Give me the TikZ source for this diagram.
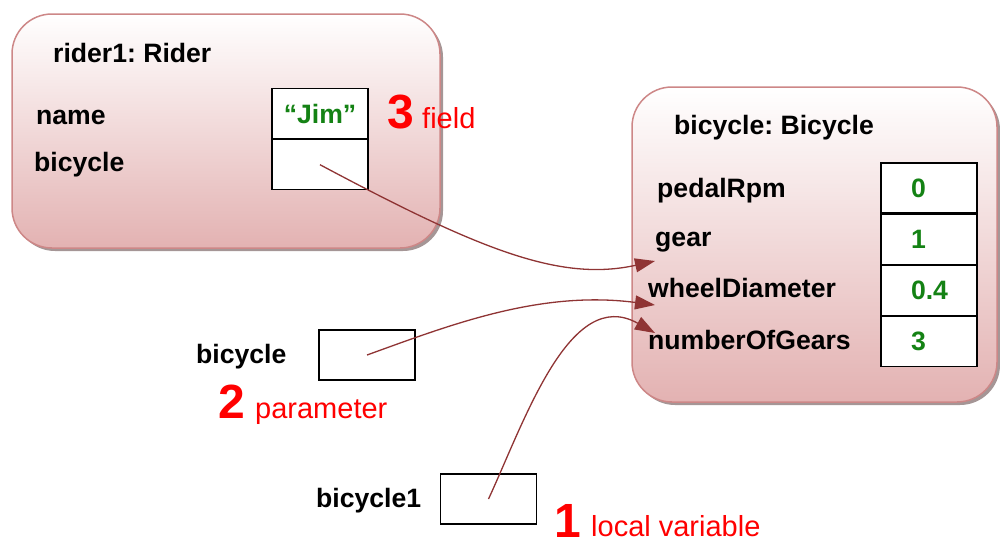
\documentclass[tikz,border=0pt]{standalone}
\usepackage{fontspec}
\setmainfont{Liberation Sans}
\usepackage{xcolor}
\usetikzlibrary{arrows.meta,positioning,shadows}
\definecolor{objborder}{RGB}{205,135,135}
\definecolor{objfill}{RGB}{227,178,178}
\definecolor{objshadow}{RGB}{165,150,150}
\definecolor{refline}{RGB}{143,52,52}
\definecolor{valgreen}{RGB}{20,130,20}
\frenchspacing

\begin{document}
\begin{tikzpicture}[
  x=1pt, y=-1pt,
  every node/.style={font=\fontsize{26.6}{30}\selectfont\bfseries},
  object/.style={draw=objborder, line width=1.5pt, rounded corners=40pt,
                 top color=white, bottom color=objfill,
                 drop shadow={shadow xshift=3pt, shadow yshift=-3pt,
                              fill=objshadow, opacity=1}},
  cell/.style={draw, line width=1.2pt, fill=white,
               minimum width=96pt, minimum height=50pt, inner sep=0pt},
  val/.style={cell, text=valgreen, inner xsep=30pt, text width=36pt, align=left},
  lbl/.style={anchor=base west, inner sep=0pt},
  num/.style={lbl, text=red, font=\fontsize{48}{50}\selectfont\bfseries},
  note/.style={lbl, text=red, font=\fontsize{29}{32}\selectfont},
  ref/.style={draw=refline, line width=1.3pt, -{Triangle[length=20pt,width=14pt]}}
]
\useasboundingbox (0,0) rectangle (1000,539);

\node[object, minimum width=428pt, minimum height=234pt] (rider) at (226,131) {};
\node[object, minimum width=365pt, minimum height=315pt] (bike) at (814.5,244.5) {};

\node[lbl] (ridertitle) at (53,62) {rider1: Rider};
\node[lbl] (lname) at (36,124) {name};
\node[lbl] (lbike) at (34,171) {bicycle};
\node[cell, text=valgreen] (cname) at (320,113.5) {“Jim”};
\node[cell, below=0pt of cname] (cbike) {};
\node[num] (n3) at (387,128) {3};
\node[note] (field) at (422,128) {field};

\node[lbl] (biketitle) at (674,134) {bicycle: Bicycle};
\node[lbl] (lrpm) at (657,197) {pedalRpm};
\node[lbl] (lgear) at (655,246) {gear};
\node[lbl] (lwheel) at (648,297) {wheelDiameter};
\node[lbl] (lgears) at (648,349) {numberOfGears};
\node[val] (vrpm) at (929,188) {0};
\node[val, below=0pt of vrpm] (vgear) {1};
\node[val, below=0pt of vgear] (vwheel) {0.4};
\node[val, below=0pt of vwheel] (vgears) {3};

\node[lbl] (lparam) at (196,363) {bicycle};
\node[cell] (cparam) at (367,355) {};
\node[num] (n2) at (218,418) {2};
\node[note] (param) at (255,418) {parameter};

\node[lbl] (llocal) at (316,507) {bicycle1};
\node[cell] (clocal) at (488.5,499) {};
\node[num] (n1) at (554,537) {1};
\node[note] (local) at (591,536) {local variable};

\coordinate (tgear) at (655,261);
\coordinate (twheel) at (655,305);
\coordinate (tgears) at (655,333);

\draw[ref] (cbike.center) .. controls (480,250) and (560,282) .. (tgear);
\draw[ref] (cparam.center) .. controls (450,325) and (540,290) .. (twheel);
\draw[ref] (clocal.center) .. controls (525,420) and (570,285) .. (tgears);

\end{tikzpicture}
\end{document}
